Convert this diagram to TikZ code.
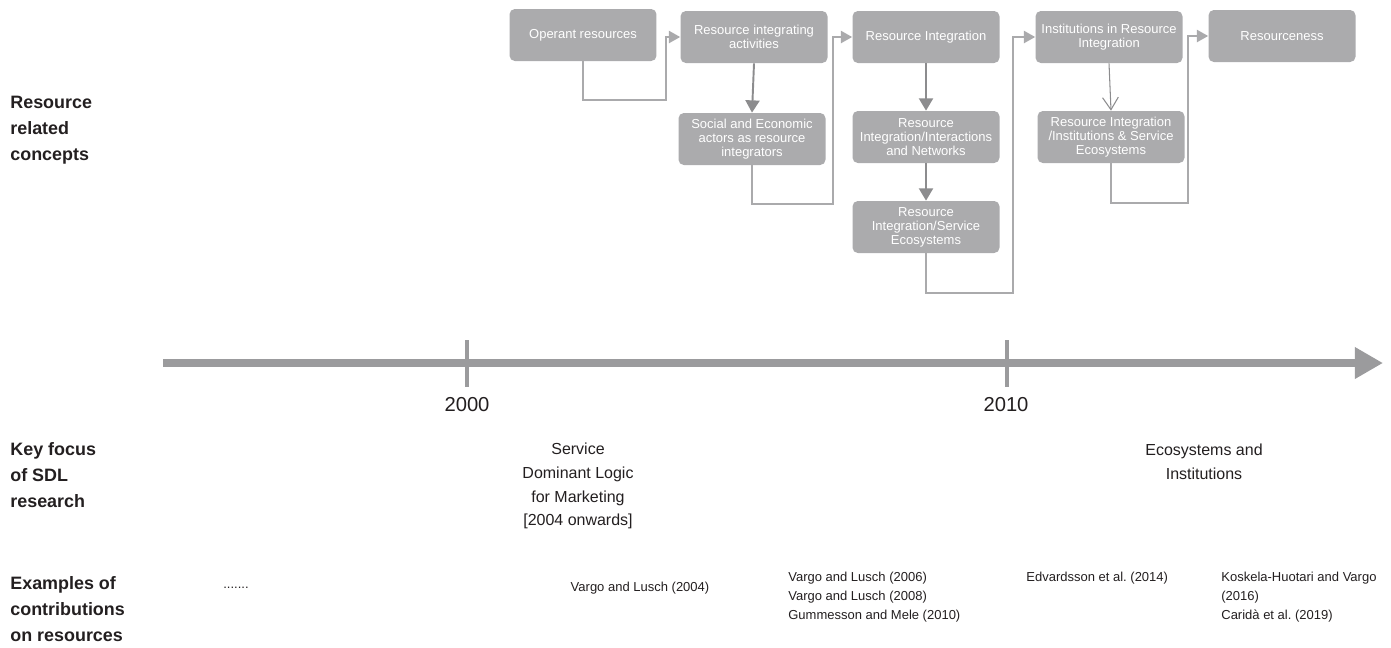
\documentclass[tikz,border=0pt]{standalone}
\usepackage{fontspec}
\setmainfont{Liberation Sans}
\usetikzlibrary{arrows.meta}
\definecolor{boxgray}{RGB}{171,171,173}
\definecolor{linegray}{RGB}{170,170,172}
\definecolor{darkgray}{RGB}{140,140,142}
\definecolor{axisgray}{RGB}{155,155,157}
\definecolor{inkblack}{RGB}{35,31,32}
\tikzset{
	box/.style={rectangle, rounded corners=3pt, fill=boxgray, text=white, align=center,
		minimum width=2.94cm, minimum height=1.04cm, inner sep=0pt,
		font=\fontsize{7.4}{8}\selectfont},
	link/.style={draw=linegray, line width=1.1pt, -{Triangle[length=6.5pt,width=7pt]}},
	down/.style={draw=darkgray, line width=1.1pt, -{Triangle[length=7pt,width=8pt]}},
	opendown/.style={draw=darkgray, line width=0.6pt, -{Straight Barb[length=7pt,width=9pt]}},
	rowlabel/.style={anchor=west, align=left, text=inkblack, inner sep=0pt,
		font=\bfseries\fontsize{10.2}{14.7}\selectfont},
	focus/.style={align=center, text=inkblack, inner sep=0pt, font=\fontsize{9.1}{13.6}\selectfont},
	cite/.style={align=left, text=inkblack, inner sep=0pt, font=\fontsize{7.4}{10.8}\selectfont},
	year/.style={text=inkblack, inner sep=0pt, font=\fontsize{11.5}{13}\selectfont}
}
\begin{document}
\begin{tikzpicture}[x=0.02cm, y=-0.02cm]
		\useasboundingbox (0,0) rectangle (1391,647);
		% concept boxes
		\node[box] (op) at (583,35) {Operant resources};
		\node[box] (ria) at (754,37) {Resource integrating\\activities};
		\node[box] (sea) at (752,139) {Social and Economic\\actors as resource\\integrators};
		\node[box] (ri) at (926,37) {Resource Integration};
		\node[box] (rin) at (926,137) {Resource\\Integration/Interactions\\and Networks};
		\node[box] (ris) at (926,227) {Resource\\Integration/Service\\Ecosystems};
		\node[box] (iri) at (1109,37) {Institutions in Resource\\Integration};
		\node[box] (rii) at (1111,137) {Resource Integration\\/Institutions \& Service\\Ecosystems};
		\node[box] (res) at (1282,36) {Resourceness};
		% elbow connectors
		\coordinate (c1) at (666,100);
		\coordinate (c2) at (833,204);
		\coordinate (c3) at (1013,293);
		\coordinate (c4) at (1188,203);
		\draw [link] (op.south) |- (c1) |- (ria.west);
		\draw [link] (sea.south) |- (c2) |- (ri.west);
		\draw [link] (ris.south) |- (c3) |- (iri.west);
		\draw [link] (rii.south) |- (c4) |- (res.west);
		\draw [down] (ria.south) -- (sea.north);
		\draw [down] (ri.south) -- (rin.north);
		\draw [down] (rin.south) -- (ris.north);
		\draw [opendown] (iri.south) -- (rii.north);
		% time line
		\coordinate (t0) at (163,363);
		\coordinate (t1) at (1383,363);
		\draw [axisgray, line width=4.5pt, -{Triangle[length=16pt,width=17pt]}] (t0) -- (t1);
		\node[year] (y2000) at (467,405) {2000};
		\node[year] (y2010) at (1006,405) {2010};
		\draw [axisgray, line width=2.3pt] (467,340) -- (467,387);
		\draw [axisgray, line width=2.3pt] (1007,340) -- (1007,387);
		% row labels
		\node[rowlabel] (lab1) at (10,130) {Resource\\related\\concepts};
		\node[rowlabel] (lab2) at (10,475) {Key focus\\of SDL\\research};
		\node[rowlabel] (lab3) at (10,609) {Examples of\\contributions\\on resources};
		% focus
		\node[focus] (sdl) at (578,486) {Service\\Dominant Logic\\for Marketing\\{[}2004 onwards{]}};
		\node[focus] (eco) at (1204,462) {Ecosystems and\\Institutions};
		% contributions
		\node[cite] (dots) at (236,588) {.......};
		\node[cite] (vl04) at (640,588) {Vargo and Lusch (2004)};
		\node[cite, anchor=west] (vl06) at (788,597) {Vargo and Lusch (2006)\\Vargo and Lusch (2008)\\Gummesson and Mele (2010)};
		\node[cite, anchor=west] (edv) at (1026,578) {Edvardsson et al.\ (2014)};
		\node[cite, anchor=west] (kos) at (1221,597) {Koskela-Huotari and Vargo\\(2016)\\Caridà et al.\ (2019)};
\end{tikzpicture}
\end{document}
